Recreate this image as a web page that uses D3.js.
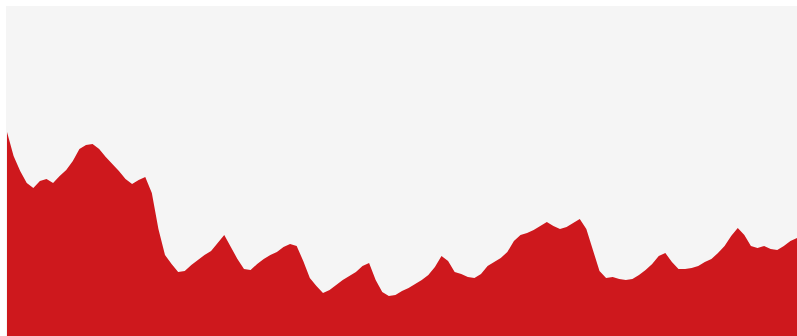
<!DOCTYPE html>
<html lang="en">
  <head>
    <meta charset="UTF-8">
    <title>Area</title>
    <style>
      body { margin: 0; background: #fff; }
      .bg { fill: #f5f5f5; }
      .area { fill: #ce181d; }
    </style>
    <script src="https://d3js.org/d3.v7.min.js"></script>
  </head>
  <body>
    <script>
      // values, one per step, left to right
      const values = [
        204, 180, 165, 153, 148, 155, 157, 153, 160, 166,
        175, 187, 191, 192, 187, 179, 172, 165, 157, 152,
        156, 159, 143, 107, 81, 72, 64, 65, 71, 76,
        81, 85, 93, 101, 89, 77, 67, 66, 72, 77,
        81, 84, 89, 92, 90, 75, 58, 50, 43, 46,
        51, 56, 60, 64, 70, 73, 56, 44, 40, 41,
        45, 48, 52, 56, 61, 69, 80, 75, 64, 62,
        59, 58, 62, 70, 74, 78, 84, 95, 101, 103,
        106, 110, 114, 110, 107, 109, 113, 117, 107, 86,
        65, 58, 59, 57, 56, 57, 61, 66, 72, 80,
        83, 74, 67, 67, 68, 70, 74, 77, 83, 90,
        100, 108, 101, 90, 88, 90, 87, 86, 90, 95,
        98
      ];
      const steps = d3.range(values.length);
      const yMax = 330;

      const width = 797;
      const height = 336;
      const margin = { top: 6, right: 0, bottom: 0, left: 6 };
      const w = width - margin.left - margin.right;
      const h = height - margin.top - margin.bottom;

      const svg = d3.select("body")
        .append("svg")
        .attr("width", width)
        .attr("height", height)
        .append("g")
        .attr("transform", `translate(${margin.left},${margin.top})`);

      svg.append("rect")
        .attr("class", "bg")
        .attr("width", w)
        .attr("height", h);

      const x = d3.scaleLinear()
        .domain([0, steps.length - 1])
        .range([1, w]);

      const y = d3.scaleLinear()
        .domain([0, yMax])
        .range([h, 0]);

      const area = d3.area()
        .x(i => x(i))
        .y0(h)
        .y1(i => y(values[i]));

      svg.append("path")
        .datum(steps)
        .attr("class", "area")
        .attr("d", area);
    </script>
  </body>
</html>
